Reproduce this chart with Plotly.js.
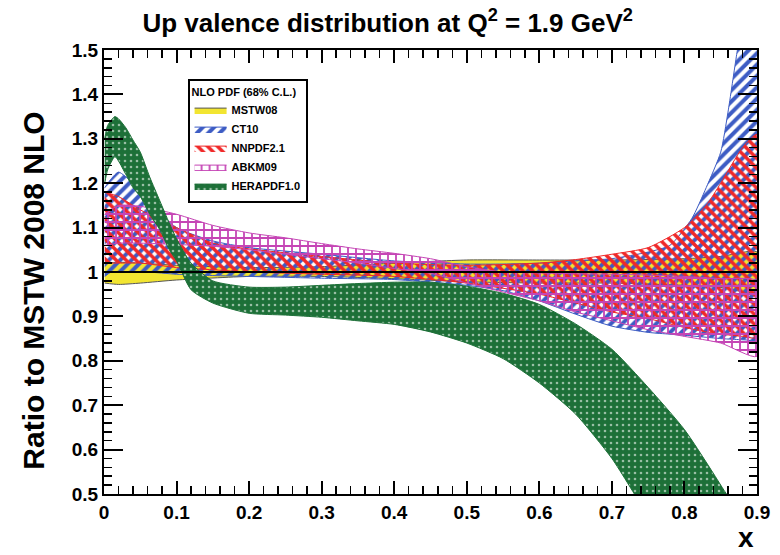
<!DOCTYPE html>
<html>
<head>
<meta charset="utf-8">
<script src="https://cdn.plot.ly/plotly-3.0.1.min.js"></script>
<style>html,body{margin:0;padding:0;background:#fff;}#chart{width:780px;height:555px;}</style>
</head>
<body>
<div id="chart"></div>
<script>
// ---- Data (ratio to MSTW 2008 NLO, up valence, Q^2 = 1.9 GeV^2) ----
const mstwX   = [0.001,0.02,0.05,0.1,0.2,0.3,0.4,0.5,0.6,0.7,0.8,0.85,0.9];
const mstwUp  = [1.02,1.022,1.02,1.015,1.01,1.012,1.02,1.027,1.027,1.027,1.03,1.035,1.045];
const mstwLo  = [0.975,0.972,0.975,0.982,0.99,0.99,0.985,0.978,0.975,0.975,0.97,0.965,0.955];
const mstwMid = [1,1,1,1,1,1,1,1,1,1,1,1,1];

const ct10X  = [0.001,0.01,0.02,0.04,0.06,0.1,0.15,0.2,0.3,0.4,0.5,0.55,0.6,0.65,0.7,0.75,0.78,0.81,0.83,0.85,0.86,0.872,0.885,0.9];
const ct10Up = [1.19,1.21,1.225,1.2,1.16,1.1,1.07,1.055,1.04,1.025,1.018,1.018,1.02,1.025,1.03,1.045,1.06,1.12,1.19,1.27,1.36,1.49,1.62,1.8];
const ct10Lo = [0.99,1.0,1.0,1.0,1.0,0.995,0.992,0.99,0.986,0.983,0.97,0.958,0.935,0.905,0.878,0.864,0.86,0.856,0.853,0.85,0.849,0.848,0.847,0.846];

const nnpdfX  = [0.001,0.02,0.05,0.1,0.15,0.2,0.3,0.4,0.5,0.6,0.65,0.7,0.75,0.8,0.83,0.85,0.88,0.9];
const nnpdfUp = [1.18,1.17,1.14,1.1,1.065,1.052,1.035,1.02,1.015,1.02,1.028,1.04,1.055,1.1,1.15,1.2,1.28,1.31];
const nnpdfLo = [1.02,1.02,1.02,1.01,1.005,1.0,0.995,0.99,0.975,0.95,0.93,0.91,0.895,0.875,0.865,0.86,0.855,0.853];

const abkmX  = [0.001,0.02,0.05,0.1,0.15,0.2,0.25,0.3,0.35,0.4,0.45,0.5,0.55,0.6,0.65,0.7,0.75,0.8,0.85,0.9];
const abkmUp = [1.13,1.15,1.148,1.13,1.105,1.088,1.077,1.064,1.052,1.042,1.03,1.012,1.0,0.998,0.996,0.995,0.993,0.99,0.985,0.98];
const abkmLo = [1.06,1.065,1.065,1.062,1.058,1.05,1.04,1.03,1.02,1.008,0.997,0.975,0.955,0.935,0.91,0.89,0.87,0.855,0.84,0.81];

const heraX  = [0.001,0.005,0.015,0.02,0.03,0.04,0.05,0.063,0.077,0.09,0.1,0.12,0.15,0.2,0.25,0.3,0.35,0.4,0.45,0.5,0.55,0.6,0.65,0.7,0.75,0.8,0.85,0.9];
const heraUp = [1.3,1.33,1.35,1.345,1.325,1.297,1.27,1.214,1.16,1.11,1.075,1.02,0.98,0.966,0.966,0.97,0.974,0.977,0.977,0.968,0.952,0.927,0.883,0.826,0.74,0.645,0.52,0.38];
const heraLo = [1.2,1.23,1.26,1.25,1.22,1.19,1.17,1.13,1.095,1.05,1.025,0.96,0.93,0.907,0.903,0.898,0.89,0.882,0.865,0.84,0.805,0.75,0.68,0.58,0.45,0.33,0.2,0.07];

const seriesNames = ['MSTW08','CT10','NNPDF2.1','ABKM09','HERAPDF1.0'];
const xTickVals = [0,0.1,0.2,0.3,0.4,0.5,0.6,0.7,0.8,0.9];
const xTickText = ['0','0.1','0.2','0.3','0.4','0.5','0.6','0.7','0.8','0.9'];
const yTickVals = [0.5,0.6,0.7,0.8,0.9,1.0,1.1,1.2,1.3,1.4,1.5];
const yTickText = ['0.5','0.6','0.7','0.8','0.9','1','1.1','1.2','1.3','1.4','1.5'];

// ---- helpers ----
function band(x, up, lo, name, style) {
  const xs = x.concat(x.slice().reverse());
  const ys = up.concat(lo.slice().reverse());
  return Object.assign({
    type: 'scatter', mode: 'lines', x: xs, y: ys, name: name,
    fill: 'toself', hoverinfo: 'skip'
  }, style);
}

const FONT = '"Liberation Sans", Arial, sans-serif';

const traces = [
  band(mstwX, mstwUp, mstwLo, seriesNames[0], {
    fillcolor: '#f2e531', line: {color: '#555555', width: 1, shape: 'spline', smoothing: 0.6}
  }),
  band(ct10X, ct10Up, ct10Lo, seriesNames[1], {
    fillcolor: 'rgba(0,0,0,0)', line: {color: '#3d5cc4', width: 1, shape: 'spline', smoothing: 0.6},
    fillpattern: {shape: '/', fgcolor: '#3d5cc4', size: 8, solidity: 0.5}
  }),
  band(nnpdfX, nnpdfUp, nnpdfLo, seriesNames[2], {
    fillcolor: 'rgba(0,0,0,0)', line: {color: '#f02828', width: 1, shape: 'spline', smoothing: 0.6},
    fillpattern: {shape: '\\', fgcolor: '#f02828', size: 7, solidity: 0.5}
  }),
  band(abkmX, abkmUp, abkmLo, seriesNames[3], {
    fillcolor: 'rgba(0,0,0,0)', line: {color: '#c545b5', width: 1, shape: 'spline', smoothing: 0.6},
    fillpattern: {shape: '+', fgcolor: '#c545b5', size: 8, solidity: 0.4}
  }),
  band(heraX, heraUp, heraLo, seriesNames[4], {
    fillcolor: '#1d7038', line: {color: '#1d7038', width: 1, shape: 'spline', smoothing: 0.6},
    fillpattern: {shape: '.', bgcolor: '#1d7038', fgcolor: 'rgba(255,255,255,0.55)', size: 6, solidity: 0.15}
  }),
  {
    type: 'scatter', mode: 'lines', x: mstwX, y: mstwMid, name: 'MSTW08 central',
    showlegend: false, hoverinfo: 'skip', line: {color: '#000000', width: 2}
  }
];

const axisCommon = {
  showgrid: false, zeroline: false, showline: true, linecolor: '#000', linewidth: 2,
  mirror: 'allticks', ticks: 'inside', tickcolor: '#000', tickwidth: 2,
  tickfont: {family: FONT, size: 19, color: '#000', weight: 'bold'},
  minor: {dtick: 0.02, ticks: 'inside', ticklen: 8, tickwidth: 1.5, tickcolor: '#000', showgrid: false}
};

const layout = {
  width: 780, height: 555,
  margin: {l: 104, r: 23, t: 50, b: 61},
  paper_bgcolor: '#fff', plot_bgcolor: '#fff',
  title: {
    text: 'Up valence distribution at Q<sup>2</sup> = 1.9 GeV<sup>2</sup>',
    font: {family: FONT, size: 26, color: '#000', weight: 'bold'},
    xref: 'container', x: 0.497, xanchor: 'center',
    yref: 'container', y: 0.958, yanchor: 'middle'
  },
  xaxis: Object.assign({}, axisCommon, {
    range: [0, 0.9], tickvals: xTickVals, ticktext: xTickText, ticklen: 13
  }),
  yaxis: Object.assign({}, axisCommon, {
    range: [0.5, 1.5], tickvals: yTickVals, ticktext: yTickText, ticklen: 19
  }),
  legend: {
    x: 0.128, y: 0.934, xanchor: 'left', yanchor: 'top',
    bgcolor: '#fff', bordercolor: '#000', borderwidth: 2,
    font: {family: FONT, size: 11, color: '#000', weight: 'bold'},
    title: {text: 'NLO PDF (68% C.L.)', font: {family: FONT, size: 11, color: '#000', weight: 'bold'}},
    traceorder: 'normal', itemwidth: 32, tracegroupgap: 0
  },
  annotations: [
    {
      text: 'Ratio to MSTW 2008 NLO', textangle: -90, showarrow: false,
      xref: 'paper', yref: 'paper', x: -0.108, y: 0.459, xanchor: 'center', yanchor: 'middle',
      font: {family: FONT, size: 30, color: '#000', weight: 'bold'}
    },
    {
      text: 'x', showarrow: false,
      xref: 'paper', yref: 'paper', x: 0.983, y: -0.098, xanchor: 'center', yanchor: 'middle',
      font: {family: FONT, size: 28, color: '#000', weight: 'bold'}
    }
  ],
  showlegend: true
};

Plotly.newPlot('chart', traces, layout, {displayModeBar: false, staticPlot: true});
</script>
</body>
</html>
